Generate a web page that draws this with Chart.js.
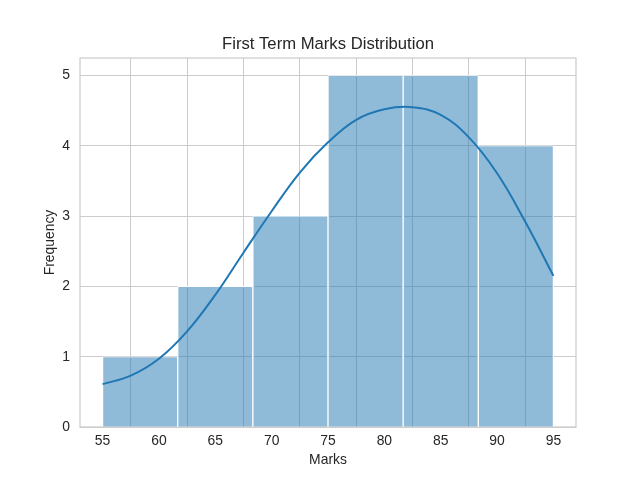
<!DOCTYPE html>
<html>
<head>
<meta charset="utf-8">
<script src="https://cdn.jsdelivr.net/npm/chart.js@4.4.1/dist/chart.umd.min.js"></script>
<style>
html,body{margin:0;padding:0;background:#fff;}
#wrap{width:640px;height:480px;position:relative;}
</style>
</head>
<body>
<div id="wrap"><canvas id="c" width="640" height="480"></canvas></div>
<script>
// Histogram bins (edges 55 .. 95, 6 bins)
const binEdges = [55, 61.667, 68.333, 75, 81.667, 88.333, 95];
const binCounts = [1, 2, 3, 5, 5, 4];
// KDE curve
const kdeX = [55, 57.5, 60, 62.5, 65, 67.5, 70, 72.5, 75, 77.5, 80, 82.5, 85, 87.5, 90, 92.5, 95];
const kdeY = [0.61, 0.73, 0.97, 1.36, 1.88, 2.48, 3.07, 3.62, 4.05, 4.37, 4.52, 4.55, 4.44, 4.12, 3.61, 2.92, 2.15];
// Tick labels
const xTicks = [55, 60, 65, 70, 75, 80, 85, 90, 95];
const yTicks = [0, 1, 2, 3, 4, 5];

const FONT = "'Liberation Sans', Arial, sans-serif";
const binCenters = binCounts.map((c, i) => (binEdges[i] + binEdges[i + 1]) / 2);
const barData = binCounts.map((c, i) => ({x: binCenters[i], y: c}));
const kdeData = kdeX.map((x, i) => ({x: x, y: kdeY[i]}));

const framePlugin = {
  id: 'frame',
  beforeDatasetsDraw(chart) {
    const a = chart.chartArea, ctx = chart.ctx;
    ctx.save();
    ctx.strokeStyle = '#cccccc';
    ctx.lineWidth = 1.25;
    ctx.strokeRect(a.left, a.top, a.right - a.left, a.bottom - a.top);
    ctx.restore();
  }
};

new Chart(document.getElementById('c'), {
  type: 'bar',
  data: {
    datasets: [
      {
        type: 'line',
        xAxisID: 'x',
        data: kdeData,
        borderColor: '#1f77b4',
        borderWidth: 2,
        pointRadius: 0,
        fill: false,
        tension: 0.4,
        order: 0
      },
      {
        type: 'bar',
        xAxisID: 'xb',
        data: barData,
        backgroundColor: 'rgba(31,119,180,0.5)',
        borderColor: '#ffffff',
        borderWidth: {left: 1, right: 1, top: 0.8, bottom: 0},
        borderSkipped: false,
        barPercentage: 1,
        categoryPercentage: 1,
        grouped: false,
        order: 1
      }
    ]
  },
  options: {
    responsive: false,
    animation: false,
    devicePixelRatio: 1,
    layout: {padding: {left: 16, right: 0, top: 0, bottom: 0}},
    plugins: {
      legend: {display: false},
      tooltip: {enabled: false},
      title: {
        display: true,
        text: 'First Term Marks Distribution',
        color: '#262626',
        font: {family: FONT, size: 16.67, weight: 'normal'},
        padding: {top: 34, bottom: 4}
      }
    },
    scales: {
      x: {
        type: 'linear',
        min: 53,
        max: 97,
        offset: false,
        afterBuildTicks: s => { s.ticks = xTicks.map(v => ({value: v})); },
        afterFit: s => { s.height = 53; },
        grid: {color: '#cccccc', lineWidth: 1, drawTicks: false},
        border: {display: false},
        ticks: {color: '#262626', font: {family: FONT, size: 13.9}, padding: 6, maxRotation: 0, autoSkip: false},
        title: {display: true, text: 'Marks', color: '#262626', font: {family: FONT, size: 13.9}, padding: {top: 0, bottom: 11}}
      },
      xb: {
        type: 'linear',
        display: false,
        min: 53,
        max: 97,
        offset: false,
        afterBuildTicks: s => { s.ticks = binCenters.map(v => ({value: v})); }
      },
      y: {
        type: 'linear',
        min: 0,
        max: 5.25,
        afterBuildTicks: s => { s.ticks = yTicks.map(v => ({value: v})); },
        afterFit: s => { s.width = 64; },
        grid: {color: '#cccccc', lineWidth: 1, drawTicks: false},
        border: {display: false},
        ticks: {color: '#262626', font: {family: FONT, size: 13.9}, padding: 10},
        title: {display: true, text: 'Frequency', color: '#262626', font: {family: FONT, size: 13.9}, padding: {top: 26, bottom: 0}}
      },
      yr: {
        type: 'linear',
        position: 'right',
        display: true,
        min: 0,
        max: 5.25,
        afterFit: s => { s.width = 64; },
        grid: {display: false, drawTicks: false},
        border: {display: false},
        ticks: {display: false}
      }
    }
  },
  plugins: [framePlugin]
});
</script>
</body>
</html>
